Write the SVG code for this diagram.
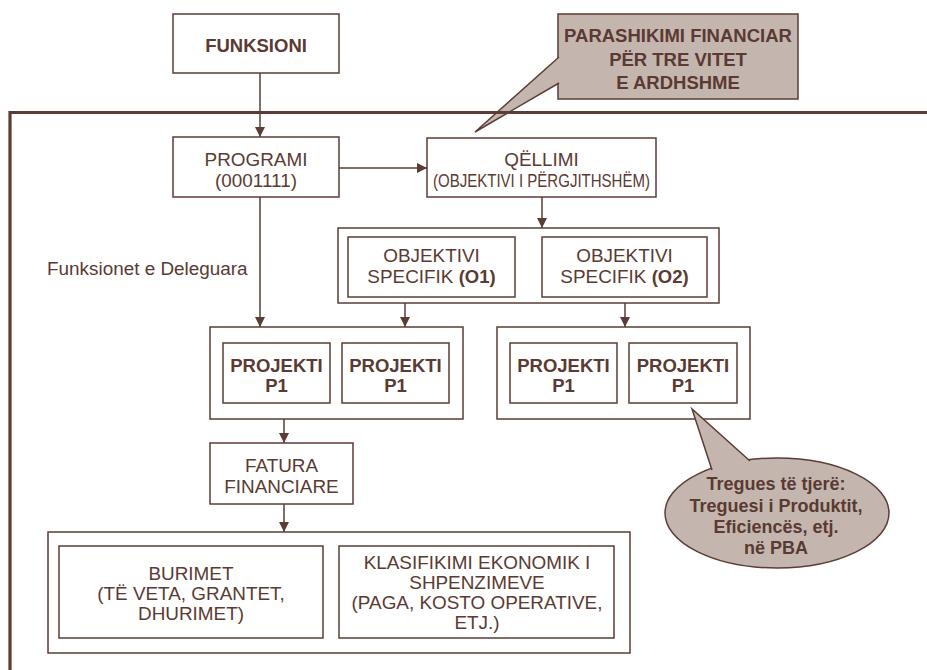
<svg xmlns="http://www.w3.org/2000/svg" width="927" height="670" viewBox="0 0 927 670">
<style>
.bx{fill:#ffffff;stroke:#5c3d35;stroke-width:1.5}
.co{fill:#c4b6af;stroke:#5c3d35;stroke-width:1.5}
.ln{fill:none;stroke:#5c3d35;stroke-width:1.5}
.fr{fill:none;stroke:#5c3d35;stroke-width:3.2}
text{font-family:"Liberation Sans",Arial,sans-serif;font-size:18.9px;fill:#5a3a32;text-anchor:middle}
.b{font-weight:bold;font-size:18.5px}
</style>
<defs>
<marker id="ah" markerUnits="userSpaceOnUse" markerWidth="10" markerHeight="10" refX="10" refY="5" orient="auto">
<path d="M0,0 L10,5 L0,10 z" fill="#5c3d35"/>
</marker>
</defs>
<rect width="927" height="670" fill="#ffffff"/>

<g id="callout-parashikimi">
<rect class="co" x="558" y="14" width="240" height="85"/>
<path d="M559,57 L475,132 L559,83" fill="#c4b6af" stroke="#5c3d35" stroke-width="1.5"/>
<text class="b" x="678" y="42">PARASHIKIMI FINANCIAR</text>
<text class="b" x="678" y="66">PËR TRE VITET</text>
<text class="b" x="678" y="89">E ARDHSHME</text>
</g>

<g id="frame">
<path class="fr" d="M927,112.5 L10,112.5 L10,670"/>
</g>

<g id="connectors">
<line class="ln" x1="260" y1="73" x2="260" y2="137" marker-end="url(#ah)"/>
<line class="ln" x1="339" y1="168" x2="427" y2="168" marker-end="url(#ah)"/>
<line class="ln" x1="542" y1="197" x2="542" y2="228" marker-end="url(#ah)"/>
<line class="ln" x1="260" y1="197" x2="260" y2="327" marker-end="url(#ah)"/>
<line class="ln" x1="405" y1="297" x2="405" y2="327" marker-end="url(#ah)"/>
<line class="ln" x1="625" y1="297" x2="625" y2="327" marker-end="url(#ah)"/>
<line class="ln" x1="284" y1="419" x2="284" y2="443" marker-end="url(#ah)"/>
<line class="ln" x1="284" y1="504" x2="284" y2="532" marker-end="url(#ah)"/>
</g>

<g id="funksioni">
<rect class="bx" x="173" y="14" width="166" height="59"/>
<text class="b" x="256" y="52">FUNKSIONI</text>
</g>

<g id="programi">
<rect class="bx" x="173" y="137" width="166" height="60"/>
<text x="256" y="166">PROGRAMI</text>
<text x="256" y="187">(0001111)</text>
</g>

<g id="qellimi">
<rect class="bx" x="427" y="138" width="229" height="59"/>
<text x="541.5" y="166">QËLLIMI</text>
<text x="541.5" y="187" textLength="217" lengthAdjust="spacingAndGlyphs">(OBJEKTIVI I PËRGJITHSHËM)</text>
</g>

<g id="funksionet-label">
<text x="47" y="275" style="text-anchor:start">Funksionet e Deleguara</text>
</g>

<g id="objektivat">
<rect class="bx" x="338" y="228" width="381" height="75"/>
<g id="o1">
<rect class="bx" x="348" y="237" width="167" height="60"/>
<text x="431.5" y="262">OBJEKTIVI</text>
<text x="431.5" y="283">SPECIFIK <tspan class="b">(O1)</tspan></text>
</g>
<g id="o2">
<rect class="bx" x="542" y="237" width="165" height="60"/>
<text x="624.5" y="262">OBJEKTIVI</text>
<text x="624.5" y="283">SPECIFIK <tspan class="b">(O2)</tspan></text>
</g>
</g>

<g id="projektet-majtas">
<rect class="bx" x="210" y="327" width="253" height="92"/>
<g id="p1a">
<rect class="bx" x="223" y="343" width="107" height="60"/>
<text class="b" x="276.5" y="372">PROJEKTI</text>
<text class="b" x="276.5" y="392">P1</text>
</g>
<g id="p1b">
<rect class="bx" x="342" y="343" width="107" height="60"/>
<text class="b" x="395.5" y="372">PROJEKTI</text>
<text class="b" x="395.5" y="392">P1</text>
</g>
</g>

<g id="projektet-djathtas">
<rect class="bx" x="497" y="327" width="253" height="92"/>
<g id="p1c">
<rect class="bx" x="510" y="343" width="107" height="60"/>
<text class="b" x="563.5" y="372">PROJEKTI</text>
<text class="b" x="563.5" y="392">P1</text>
</g>
<g id="p1d">
<rect class="bx" x="629" y="343" width="108" height="60"/>
<text class="b" x="683" y="372">PROJEKTI</text>
<text class="b" x="683" y="392">P1</text>
</g>
</g>

<g id="fatura">
<rect class="bx" x="210" y="443" width="143" height="61"/>
<text x="281.5" y="472">FATURA</text>
<text x="281.5" y="493">FINANCIARE</text>
</g>

<g id="burimet-klasifikimi">
<rect class="bx" x="48" y="532" width="582" height="121"/>
<g id="burimet">
<rect class="bx" x="59" y="546" width="264" height="92"/>
<text x="191" y="580">BURIMET</text>
<text x="191" y="600">(TË VETA, GRANTET,</text>
<text x="191" y="620">DHURIMET)</text>
</g>
<g id="klasifikimi">
<rect class="bx" x="339" y="546" width="275" height="92"/>
<text x="477" y="569">KLASIFIKIMI EKONOMIK I</text>
<text x="477" y="589">SHPENZIMEVE</text>
<text x="477" y="609">(PAGA, KOSTO OPERATIVE,</text>
<text x="477" y="629">ETJ.)</text>
</g>
</g>

<g id="callout-tregues">
<ellipse class="co" cx="777" cy="513" rx="112" ry="55"/>
<path d="M712,470 L692,409 L750,461" fill="#c4b6af" stroke="#5c3d35" stroke-width="1.5"/>
<text class="b" x="776" y="490" style="font-size:18px">Tregues të tjerë:</text>
<text class="b" x="776" y="512" style="font-size:18px">Treguesi i Produktit,</text>
<text class="b" x="776" y="533" style="font-size:18px">Eficiencës, etj.</text>
<text class="b" x="776" y="554" style="font-size:18px">në PBA</text>
</g>
</svg>
